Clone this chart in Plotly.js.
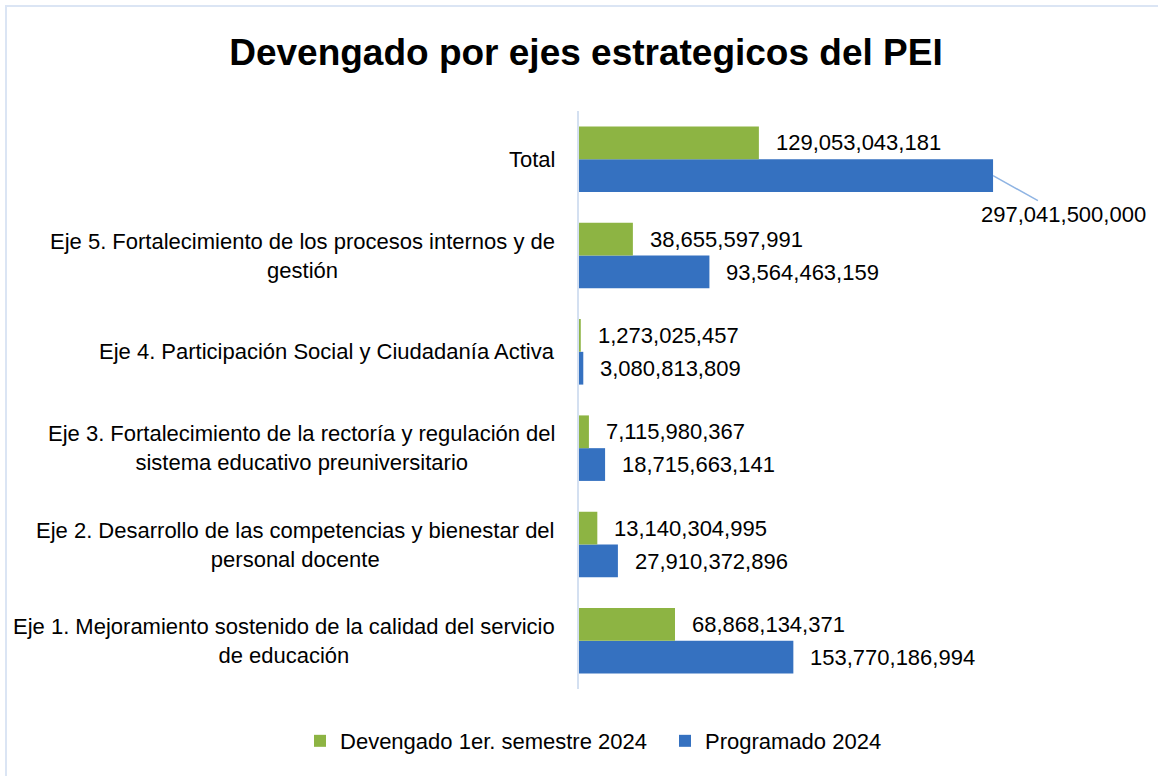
<!DOCTYPE html>
<html>
<head>
<meta charset="utf-8">
<script src="https://cdn.plot.ly/plotly-3.0.1.min.js"></script>
<style>
  html, body { margin: 0; padding: 0; background: #ffffff; }
  #chart { width: 1158px; height: 776px; }
  #frame { position: absolute; left: 5px; top: 5px; width: 1200px; height: 800px;
           border-top: 2px solid #dbe5f4; border-left: 2px solid #dbe5f4; pointer-events: none; }
</style>
</head>
<body>
<div id="chart"></div>
<div id="frame"></div>
<script>
// ---- data ----
const categories = [
  "Eje 1. Mejoramiento sostenido de la calidad del servicio<br>de educación",
  "Eje 2. Desarrollo de las competencias y bienestar del<br>personal docente",
  "Eje 3. Fortalecimiento de la rectoría y regulación del<br>sistema educativo preuniversitario",
  "Eje 4. Participación Social y Ciudadanía Activa",
  "Eje 5. Fortalecimiento de los procesos internos y de<br>gestión",
  "Total"
];
const devengado = [68868134371, 13140304995, 7115980367, 1273025457, 38655597991, 129053043181];
const programado = [153770186994, 27910372896, 18715663141, 3080813809, 93564463159, 297041500000];
const seriesNames = ["Devengado 1er. semestre 2024", "Programado 2024"];

// ---- style ----
const FONT = "'Liberation Sans', Arial, sans-serif";
const FS = 22;
const GREEN = "#8db443";
const BLUE = "#3571c0";
const fmt = v => v.toLocaleString("en-US");

const traces = [
  {
    type: "bar", orientation: "h", name: seriesNames[1],
    y: categories, x: programado,
    marker: { color: BLUE }, legendrank: 2, hoverinfo: "x"
  },
  {
    type: "bar", orientation: "h", name: seriesNames[0],
    y: categories, x: devengado,
    marker: { color: GREEN }, legendrank: 1, hoverinfo: "x"
  }
];

const annotations = [];
// category labels (center-aligned multi-line, right-anchored)
categories.forEach(c => {
  annotations.push({
    xref: "paper", yref: "y", x: 0, y: c, xanchor: "right", yanchor: "middle",
    xshift: -22, align: "center", showarrow: false, text: c,
    font: { family: FONT, size: FS, color: "#000000" }
  });
});
// value labels
const last = categories.length - 1;
categories.forEach((c, i) => {
  annotations.push({
    xref: "x", yref: "y", x: devengado[i], y: c, xanchor: "left", yanchor: "middle",
    xshift: 15, yshift: 16.5, showarrow: false, text: fmt(devengado[i]),
    font: { family: FONT, size: FS, color: "#000000" }
  });
  if (i !== last) {
    annotations.push({
      xref: "x", yref: "y", x: programado[i], y: c, xanchor: "left", yanchor: "middle",
      xshift: 15, yshift: -16.5, showarrow: false, text: fmt(programado[i]),
      font: { family: FONT, size: FS, color: "#000000" }
    });
  } else {
    annotations.push({
      xref: "x", yref: "y", x: programado[i], y: c, yshift: -16.5,
      showarrow: true, arrowhead: 0, arrowwidth: 1.5, arrowcolor: "#8fb4e3",
      ax: 70, ay: 39, standoff: 0, text: fmt(programado[i]),
      font: { family: FONT, size: FS, color: "#000000" }
    });
  }
});

const layout = {
  width: 1158, height: 776,
  paper_bgcolor: "#ffffff", plot_bgcolor: "#ffffff",
  margin: { l: 579, r: 119, t: 111, b: 87 },
  barmode: "group", bargap: 0.32, bargroupgap: 0,
  title: {
    text: "<b>Devengado por ejes estrategicos del PEI</b>",
    xref: "container", yref: "container", x: 0.506, y: 0.933,
    xanchor: "center", yanchor: "middle",
    font: { family: FONT, size: 37, color: "#000000" }
  },
  xaxis: {
    range: [0, 330e9], showgrid: false, zeroline: false, showticklabels: false,
    showline: false, ticks: ""
  },
  yaxis: {
    type: "category", showgrid: false, zeroline: false, showticklabels: false,
    showline: true, linecolor: "#d4e0f1", linewidth: 2, ticks: "",
    range: [-0.5, categories.length - 0.5]
  },
  showlegend: true,
  legend: {
    orientation: "h", xref: "paper", yref: "paper",
    x: -0.6065, y: -0.09, xanchor: "left", yanchor: "middle",
    font: { family: FONT, size: FS, color: "#000000" },
    itemwidth: 30, tracegroupgap: 0,
    entrywidth: 320, entrywidthmode: "pixels"
  },
  annotations: annotations
};

Plotly.newPlot("chart", traces, layout, { displayModeBar: false, staticPlot: true });
</script>
</body>
</html>
